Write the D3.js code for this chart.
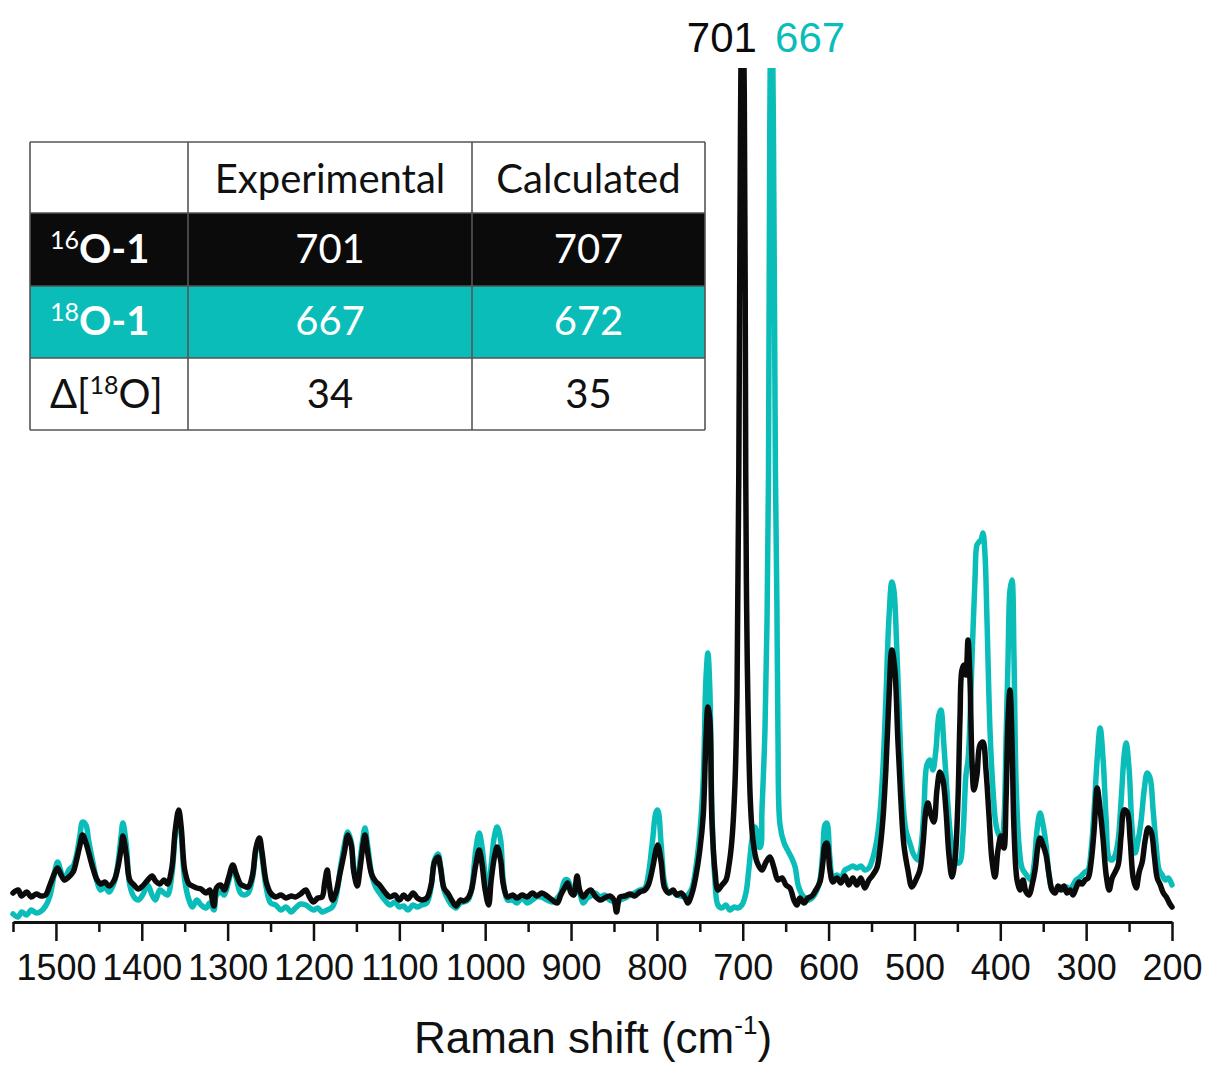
<!DOCTYPE html>
<html>
<head>
<meta charset="utf-8">
<script src="https://cdn.jsdelivr.net/npm/d3@7"></script>
<style>
  body { margin: 0; background: #fff; }
  svg { display: block; }
</style>
</head>
<body>
<svg id="chart" width="1209" height="1066"></svg>
<script>
// Raman spectra, [shift (cm-1), intensity (a.u.)]
const spectrum16O = [
  [1550,0.32],[1544,0.35],[1540,0.29],[1534,0.33],[1529,0.28],[1523,0.31],[1517,0.29],[1512,0.30],[1507,0.40],[1501,0.53],
  [1498,0.57],[1494,0.50],[1490,0.45],[1485,0.48],[1480,0.53],[1476,0.65],[1472,0.80],[1469,0.90],[1465,0.82],[1462,0.73],
  [1457,0.57],[1452,0.45],[1448,0.41],[1443,0.43],[1438,0.39],[1432,0.45],[1428,0.57],[1424,0.77],[1422,0.89],[1418,0.70],
  [1414,0.45],[1409,0.40],[1404,0.36],[1399,0.39],[1393,0.45],[1388,0.49],[1384,0.44],[1379,0.41],[1374,0.45],[1370,0.41],
  [1365,0.57],[1361,0.95],[1357,1.15],[1354,0.97],[1350,0.55],[1345,0.41],[1341,0.39],[1336,0.37],[1331,0.36],[1325,0.32],
  [1321,0.35],[1316,0.19],[1313,0.37],[1308,0.40],[1304,0.35],[1299,0.47],[1294,0.60],[1290,0.51],[1285,0.41],[1281,0.39],
  [1276,0.38],[1271,0.50],[1267,0.77],[1263,0.87],[1260,0.73],[1255,0.43],[1250,0.32],[1244,0.28],[1238,0.30],[1232,0.27],
  [1226,0.29],[1221,0.28],[1215,0.31],[1209,0.35],[1204,0.27],[1200,0.23],[1195,0.27],[1190,0.28],[1187,0.42],[1184,0.55],
  [1182,0.43],[1178,0.25],[1174,0.32],[1169,0.52],[1164,0.73],[1160,0.90],[1156,0.80],[1153,0.53],[1149,0.39],[1146,0.55],
  [1142,0.82],[1140,0.90],[1137,0.73],[1132,0.50],[1127,0.43],[1123,0.40],[1117,0.33],[1111,0.28],[1105,0.30],[1100,0.25],
  [1095,0.30],[1090,0.26],[1084,0.32],[1079,0.27],[1074,0.25],[1068,0.27],[1063,0.40],[1059,0.63],[1055,0.68],[1052,0.57],
  [1048,0.37],[1043,0.31],[1039,0.25],[1034,0.19],[1029,0.25],[1025,0.24],[1020,0.27],[1016,0.35],[1011,0.60],[1007,0.75],
  [1004,0.63],[1000,0.35],[996,0.20],[993,0.45],[989,0.69],[986,0.78],[982,0.65],[979,0.41],[974,0.28],[968,0.30],
  [963,0.27],[957,0.30],[951,0.28],[945,0.32],[940,0.29],[934,0.32],[928,0.29],[922,0.25],[916,0.22],[912,0.30],
  [907,0.38],[904,0.42],[900,0.32],[897,0.30],[893,0.49],[890,0.35],[886,0.28],[881,0.33],[877,0.35],[872,0.29],
  [866,0.25],[861,0.27],[855,0.29],[850,0.25],[847,0.13],[843,0.28],[837,0.29],[831,0.31],[826,0.29],[820,0.33],
  [814,0.35],[810,0.40],[805,0.57],[801,0.75],[799,0.80],[795,0.63],[791,0.37],[786,0.32],[781,0.35],[777,0.30],
  [772,0.32],[767,0.27],[764,0.22],[759,0.32],[755,0.47],[750,0.75],[746,1.10],[742.9,1.85],[740.6,2.18],[738.3,2.05],
  [735.9,1.05],[732.4,0.55],[728.9,0.35],[724.2,0.40],[719.5,0.45],[716,0.60],[712.6,0.85],[709.1,1.40],[706.7,2.30],[704.6,4.50],
  [702.6,8.00],[700.6,9.60],[698.2,8.30],[696.5,4.50],[695.5,3.20],[694,2.25],[691.2,1.25],[688.1,0.85],[683.4,0.63],[677.6,0.55],
  [672.9,0.63],[668.3,0.68],[663.6,0.57],[659,0.45],[654.3,0.47],[649.7,0.40],[645,0.37],[640.4,0.25],[636.9,0.20],[633.4,0.27],
  [628.7,0.22],[624.1,0.27],[619.4,0.29],[614.8,0.35],[610.1,0.43],[606.6,0.63],[604.3,0.80],[602,0.82],[598.5,0.55],[595,0.43],
  [590.3,0.47],[585.7,0.42],[581,0.49],[576.4,0.40],[571.7,0.47],[567.1,0.40],[562.4,0.47],[557.8,0.37],[553.1,0.45],[548.5,0.50],
  [543.8,0.57],[540.3,0.75],[536.8,1.05],[533.3,1.55],[529.8,2.25],[526.3,2.75],[522.8,2.55],[519.3,1.85],[515.8,1.25],[512.3,0.80],
  [507.6,0.55],[503,0.38],[498.3,0.45],[493.6,0.55],[490.1,0.80],[486.6,1.15],[484.3,1.22],[480.8,1.10],[477.3,1.03],[473.8,1.35],
  [470.3,1.53],[466.8,1.45],[463.3,1.15],[459.8,0.70],[456.3,0.48],[452.8,0.65],[449.3,1.25],[447,2.05],[444.7,2.55],[442.3,2.60],
  [440,2.50],[437.6,2.85],[435.3,2.45],[433,1.65],[430.7,1.35],[427.2,1.50],[423.7,1.80],[420.2,1.83],[416.7,1.55],[413.2,1.10],
  [409.7,0.65],[406.2,0.48],[402.7,0.75],[399.2,0.89],[395.7,0.77],[393.3,1.25],[391,2.05],[388.7,2.35],[386.4,1.85],[384,0.95],
  [380.5,0.45],[377,0.35],[373.5,0.45],[370,0.33],[366.5,0.30],[363,0.40],[359.5,0.55],[356,0.80],[353.7,0.87],[350.2,0.80],
  [346.7,0.70],[343.2,0.50],[339.7,0.35],[336.2,0.32],[332.7,0.39],[329.2,0.35],[325.7,0.39],[322.2,0.32],[318.7,0.35],[315.2,0.30],
  [311.7,0.37],[308.2,0.43],[304.7,0.41],[301.2,0.45],[297.7,0.47],[294.2,0.63],[290.7,0.95],[287.2,1.37],[283.7,1.15],[280.2,0.85],
  [276.7,0.50],[273.2,0.35],[269.7,0.47],[266.2,0.53],[262.7,0.60],[259.2,0.90],[255.7,1.15],[252.2,1.13],[248.7,0.85],[245.2,0.47],
  [241.7,0.37],[238.2,0.53],[234.7,0.63],[231.2,0.85],[227.7,0.97],[224.2,0.93],[220.7,0.70],[217.2,0.47],[213.6,0.40],[210.1,0.32],
  [206.6,0.28],[203.1,0.22],[200,0.18]
];

const spectrum18O = [
  [1550,0.11],[1544,0.08],[1540,0.13],[1534,0.10],[1529,0.15],[1523,0.12],[1517,0.14],[1512,0.19],[1507,0.29],[1501,0.55],
  [1498,0.63],[1494,0.53],[1490,0.45],[1485,0.55],[1480,0.59],[1476,0.70],[1472,0.90],[1469,1.03],[1465,1.00],[1462,0.85],
  [1457,0.63],[1452,0.43],[1448,0.35],[1443,0.38],[1438,0.33],[1432,0.43],[1428,0.60],[1424,0.90],[1422,1.02],[1418,0.80],
  [1414,0.40],[1409,0.28],[1404,0.25],[1399,0.30],[1393,0.40],[1388,0.30],[1384,0.25],[1379,0.35],[1374,0.32],[1370,0.30],
  [1365,0.50],[1361,0.90],[1357,1.10],[1354,0.90],[1350,0.45],[1345,0.25],[1341,0.18],[1336,0.25],[1331,0.20],[1325,0.17],
  [1321,0.22],[1316,0.15],[1313,0.30],[1308,0.33],[1304,0.30],[1299,0.43],[1294,0.59],[1290,0.47],[1285,0.32],[1281,0.30],
  [1276,0.32],[1271,0.47],[1267,0.75],[1263,0.85],[1260,0.69],[1255,0.37],[1250,0.22],[1244,0.20],[1238,0.15],[1232,0.18],
  [1226,0.13],[1221,0.17],[1215,0.21],[1209,0.20],[1204,0.17],[1200,0.15],[1195,0.17],[1190,0.13],[1184,0.15],[1178,0.18],
  [1174,0.27],[1169,0.55],[1164,0.80],[1160,0.93],[1156,0.83],[1153,0.55],[1149,0.43],[1146,0.63],[1142,0.89],[1140,0.97],
  [1137,0.80],[1132,0.50],[1127,0.37],[1123,0.32],[1117,0.25],[1111,0.20],[1105,0.23],[1100,0.18],[1095,0.19],[1090,0.15],
  [1084,0.20],[1079,0.18],[1074,0.20],[1068,0.22],[1063,0.38],[1059,0.65],[1055,0.71],[1052,0.59],[1048,0.35],[1043,0.25],
  [1039,0.20],[1034,0.17],[1029,0.22],[1025,0.23],[1020,0.25],[1016,0.35],[1011,0.75],[1007,0.92],[1004,0.80],[1000,0.50],
  [996,0.30],[993,0.60],[989,0.90],[986,0.98],[982,0.85],[979,0.45],[974,0.25],[968,0.25],[963,0.22],[957,0.27],
  [951,0.22],[945,0.25],[940,0.28],[934,0.28],[928,0.25],[922,0.23],[916,0.27],[912,0.32],[907,0.45],[904,0.45],
  [900,0.37],[897,0.30],[893,0.35],[890,0.32],[886,0.22],[881,0.27],[877,0.29],[872,0.32],[866,0.28],[861,0.30],
  [855,0.25],[850,0.23],[847,0.20],[843,0.25],[837,0.27],[831,0.30],[826,0.32],[820,0.35],[814,0.37],[810,0.50],
  [805,0.85],[801,1.13],[799,1.15],[795,0.80],[791,0.42],[786,0.32],[781,0.33],[777,0.30],[772,0.29],[767,0.28],
  [764,0.30],[759,0.37],[755,0.55],[750,0.92],[746,1.45],[742.9,2.45],[740.6,2.72],[738.3,2.35],[735.9,1.15],[732.4,0.45],
  [728.9,0.20],[724.2,0.17],[719.5,0.20],[715,0.15],[710,0.18],[706,0.17],[701,0.20],[696.3,0.32],[693,0.55],[689.3,0.85],
  [686,0.98],[684,0.95],[681.5,0.78],[679.5,0.78],[677.6,1.15],[674.1,1.95],[671.8,3.00],[670,4.50],[668.5,8.00],[666.6,9.60],
  [664.3,8.00],[661.9,4.50],[660.2,3.20],[659,1.92],[656.6,1.00],[651.8,0.82],[647.2,0.74],[642.5,0.66],[639,0.58],[635.5,0.40],
  [632,0.32],[627.5,0.27],[622.8,0.25],[618.1,0.28],[613.5,0.35],[610,0.45],[606.6,0.75],[604.3,1.00],[602,1.02],[598.5,0.67],
  [595,0.48],[590.3,0.50],[585.7,0.47],[581,0.55],[576.4,0.57],[571.7,0.59],[567.1,0.57],[562.4,0.59],[557.8,0.55],[553.1,0.57],
  [548.5,0.67],[543.8,0.85],[540.3,1.10],[536.8,1.55],[533.3,2.25],[529.8,3.05],[526.3,3.43],[524,3.35],[520.5,2.75],[517,1.95],
  [513.5,1.25],[510,0.95],[505.4,0.82],[500.7,0.70],[496,0.65],[492.5,0.77],[489,1.15],[485.5,1.60],[482,1.65],[478.5,1.55],
  [475,1.75],[471.5,2.10],[469.2,2.15],[465.7,1.80],[462.2,1.35],[458.7,0.95],[455.2,0.73],[450.5,0.62],[447,0.63],[443.5,0.90],
  [440,1.50],[437.6,1.65],[435.3,2.05],[433,2.65],[429.5,3.45],[427.2,3.80],[424.8,3.83],[422.5,3.85],[420.2,3.92],[417.8,3.70],
  [415.5,3.05],[412,1.95],[408.5,1.35],[405,1.00],[401.5,0.90],[398,0.87],[395.7,1.05],[393.3,1.85],[391,2.65],[388.7,3.35],
  [386.4,3.45],[384,2.65],[381.7,1.45],[378.2,0.80],[374.7,0.57],[371.2,0.52],[367.7,0.48],[364.2,0.45],[360.7,0.60],[357.2,0.95],
  [353.7,1.12],[350.2,1.00],[346.7,0.80],[343.2,0.50],[339.7,0.35],[336.2,0.33],[332.7,0.37],[329.2,0.38],[325.7,0.35],[322.2,0.38],
  [318.7,0.35],[315.2,0.40],[311.7,0.45],[308.2,0.47],[304.7,0.50],[301.2,0.53],[297.7,0.55],[294.2,0.75],[290.7,1.15],[287.2,1.65],
  [283.7,1.97],[280.2,1.65],[276.7,1.05],[273.2,0.67],[269.7,0.65],[266.2,0.70],[262.7,0.85],[259.2,1.25],[255.7,1.70],[253.4,1.82],
  [249.9,1.55],[246.4,0.95],[242.9,0.72],[239.4,0.85],[235.9,1.05],[232.4,1.35],[228.9,1.52],[225.5,1.47],[222,1.15],[218.5,0.80],
  [215,0.55],[211.4,0.50],[207.9,0.45],[204.4,0.47],[200,0.40]
];

// Axis ticks
const majorTicks = [1500, 1400, 1300, 1200, 1100, 1000, 900, 800, 700, 600, 500, 400, 300, 200];
const minorTicks = [1550, 1450, 1350, 1250, 1150, 1050, 950, 850, 750, 650, 550, 450, 350, 250];

// Peak annotations
const peakLabels = [
  { text: "701", shift: 701, series: "16O" },
  { text: "667", shift: 667, series: "18O" }
];

// Inset table
const tableHeader = ["", "Experimental", "Calculated"];
const tableRowLabels = [
  { pre: "", sup: "16", post: "O-1", bold: true },
  { pre: "", sup: "18", post: "O-1", bold: true },
  { pre: "\u0394[", sup: "18", post: "O]", bold: false }
];
const experimental = [701, 667, 34];
const calculated = [707, 672, 35];

const BLACK = "#0b0b0b";
const TEAL = "#0abdb9";
const seriesColor = { "16O": BLACK, "18O": TEAL };

const svg = d3.select("#chart");

const x = d3.scaleLinear().domain([1550, 200]).range([13, 1172]);
const y = d3.scaleLinear().domain([0, 8.55]).range([925, 70]);

svg.append("defs").append("clipPath").attr("id", "plotClip")
  .append("rect").attr("x", 0).attr("y", 68).attr("width", 1209).attr("height", 870);

const line = d3.line()
  .x(d => x(d[0]))
  .y(d => y(d[1]))
  .curve(d3.curveCatmullRom.alpha(0.5));

const plot = svg.append("g").attr("clip-path", "url(#plotClip)");

plot.append("path").datum(spectrum18O)
  .attr("d", line).attr("fill", "none")
  .attr("stroke", TEAL).attr("stroke-width", 5.5)
  .attr("stroke-linejoin", "round").attr("stroke-linecap", "round");

plot.append("path").datum(spectrum16O)
  .attr("d", line).attr("fill", "none")
  .attr("stroke", BLACK).attr("stroke-width", 5.5)
  .attr("stroke-linejoin", "round").attr("stroke-linecap", "round");

// x axis
const axisY = 922;
const minorAxis = d3.axisBottom(x).tickValues(minorTicks).tickSize(10).tickSizeOuter(0).tickFormat("");
const gMinor = svg.append("g").attr("transform", `translate(0,${axisY})`).call(minorAxis);
gMinor.select(".domain").remove();
gMinor.selectAll(".tick line").attr("stroke", "#111").attr("stroke-width", 2.5);

const majorAxis = d3.axisBottom(x).tickValues(majorTicks).tickSize(19).tickSizeOuter(0).tickFormat(d3.format("d"));
const gMajor = svg.append("g").attr("transform", `translate(0,${axisY})`).call(majorAxis);
gMajor.select(".domain").attr("stroke", "#111").attr("stroke-width", 3);
gMajor.selectAll(".tick line").attr("stroke", "#111").attr("stroke-width", 2.5);
gMajor.selectAll(".tick text")
  .attr("y", 58).attr("dy", 0)
  .attr("fill", "#111")
  .style("font-family", "'Liberation Sans', Arial, sans-serif")
  .style("font-size", "36px");

// axis title
const title = svg.append("text")
  .attr("x", 593).attr("y", 1053)
  .attr("text-anchor", "middle")
  .attr("fill", "#111")
  .style("font-family", "'Liberation Sans', Arial, sans-serif")
  .style("font-size", "44px");
title.append("tspan").text("Raman shift (cm");
title.append("tspan").attr("dy", -19).style("font-size", "26px").text("-1");
title.append("tspan").attr("dy", 19).text(")");

// peak labels above the clipped peaks
peakLabels.forEach(p => {
  const isLeft = p.series === "16O";
  svg.append("text")
    .attr("x", isLeft ? x(p.shift) + 15 : x(p.shift) + 4)
    .attr("y", 52)
    .attr("text-anchor", isLeft ? "end" : "start")
    .attr("fill", seriesColor[p.series])
    .style("font-family", "'Liberation Sans', Arial, sans-serif")
    .style("font-size", "42px")
    .text(p.text);
});

// inset table
const colX = [30, 188, 472, 705];
const rowY = [142, 213, 286, 358, 430];
const rowFill = ["#fff", BLACK, TEAL, "#fff"];
const rowText = ["#111", "#fff", "#fff", "#111"];
const tableFont = "Lato, 'Open Sans', sans-serif";
const table = svg.append("g");

rowFill.forEach((f, i) => {
  table.append("rect")
    .attr("x", colX[0]).attr("y", rowY[i])
    .attr("width", colX[3] - colX[0]).attr("height", rowY[i + 1] - rowY[i])
    .attr("fill", f);
});

// grid lines
rowY.forEach(yy => {
  table.append("line").attr("x1", colX[0]).attr("x2", colX[3]).attr("y1", yy).attr("y2", yy)
    .attr("stroke", "#555").attr("stroke-width", 1.6);
});
colX.forEach(xx => {
  table.append("line").attr("x1", xx).attr("x2", xx).attr("y1", rowY[0]).attr("y2", rowY[4])
    .attr("stroke", "#555").attr("stroke-width", 1.6);
});

const colCenter = [null, (colX[1] + colX[2]) / 2, (colX[2] + colX[3]) / 2];
const baseline = [193, 263, 335, 408];

tableHeader.forEach((h, j) => {
  if (!h) return;
  table.append("text")
    .attr("x", colCenter[j]).attr("y", baseline[0])
    .attr("text-anchor", "middle").attr("fill", "#111")
    .style("font-family", tableFont).style("font-size", "40px")
    .text(h);
});

tableRowLabels.forEach((r, i) => {
  const t = table.append("text")
    .attr("x", 50).attr("y", baseline[i + 1])
    .attr("fill", rowText[i + 1])
    .style("font-family", tableFont).style("font-size", "40px")
    .style("font-weight", r.bold ? "700" : "400");
  if (r.pre) t.append("tspan").text(r.pre);
  t.append("tspan").attr("dy", -14).style("font-size", "25px").style("font-weight", "400").text(r.sup);
  t.append("tspan").attr("dy", 14).text(r.post);

  [experimental[i], calculated[i]].forEach((v, j) => {
    table.append("text")
      .attr("x", colCenter[j + 1]).attr("y", baseline[i + 1])
      .attr("text-anchor", "middle").attr("fill", rowText[i + 1])
      .style("font-family", tableFont).style("font-size", "40px")
      .text(v);
  });
});
</script>
</body>
</html>
